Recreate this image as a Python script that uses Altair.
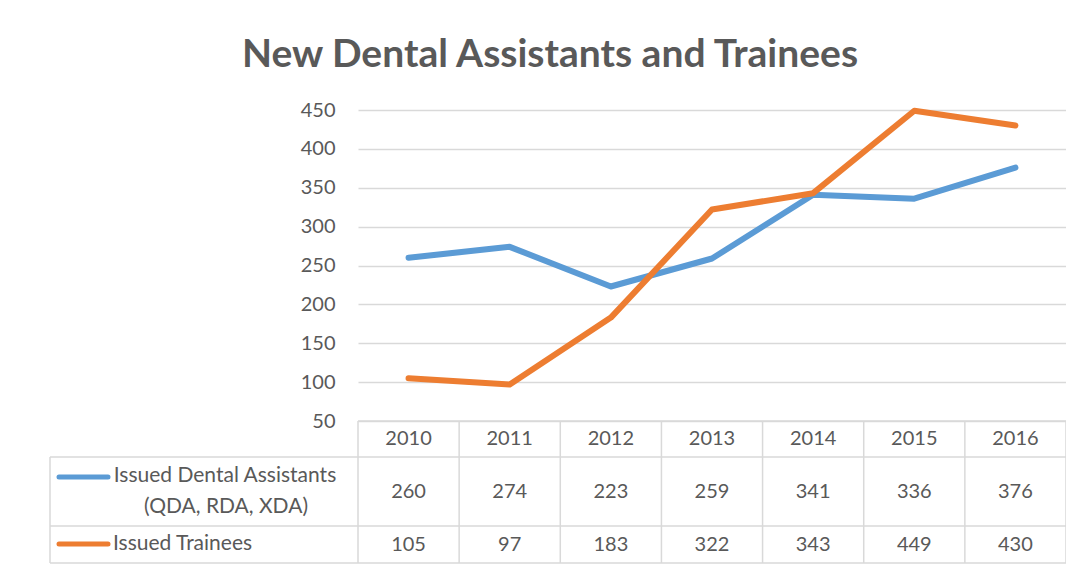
import altair as alt
import pandas as pd

years = ["2010", "2011", "2012", "2013", "2014", "2015", "2016"]
dental = [260, 274, 223, 259, 341, 336, 376]
trainees = [105, 97, 183, 322, 343, 449, 430]
series_names = ["Issued Dental Assistants (QDA, RDA, XDA)", "Issued Trainees"]
colors = ["#5B9BD5", "#ED7D31"]
y_ticks = [50, 100, 150, 200, 250, 300, 350, 400, 450]

FONT = "Lato"
GREY = "#595959"
LINE = "#d9d9d9"
W, H = 708, 311
FS = 20

idx = list(range(len(years)))
long_df = pd.DataFrame(
    [{"idx": i, "year": y, "value": v, "series": series_names[0]} for i, y, v in zip(idx, years, dental)]
    + [{"idx": i, "year": y, "value": v, "series": series_names[1]} for i, y, v in zip(idx, years, trainees)]
)
table_df = pd.DataFrame({"idx": idx, "year": years, "dental": dental, "trainees": trainees})
bounds_df = pd.DataFrame({"b": [i - 0.5 for i in idx] + [idx[-1] + 0.5]})
one_df = pd.DataFrame({"k": [0]})

xscale = alt.Scale(domain=[-0.5, len(years) - 0.5], nice=False, zero=False)
yscale = alt.Scale(domain=[50, 450], nice=False, zero=False)

lines = alt.Chart(long_df).mark_line(strokeWidth=6, strokeCap="round", strokeJoin="round").encode(
    x=alt.X("idx:Q", scale=xscale, axis=None),
    y=alt.Y("value:Q", scale=yscale, axis=alt.Axis(
        values=y_ticks, grid=True, gridColor=LINE, gridWidth=1.5, domain=False, ticks=False,
        labelPadding=23, labelFontSize=FS, labelColor=GREY, labelFont=FONT, title=None)),
    color=alt.Color("series:N", scale=alt.Scale(domain=series_names, range=colors), legend=None),
)

tbl = alt.Chart(table_df)
def row(field, ypx):
    return tbl.mark_text(fontSize=FS, font=FONT, color=GREY, baseline="middle").encode(
        x=alt.X("idx:Q", scale=xscale, axis=None), y=alt.value(ypx), text=field)

hdr = row("year:N", 329)
row1 = row("dental:Q", 381.5)
row2 = row("trainees:Q", 434.5)

vrules = alt.Chart(bounds_df).mark_rule(color=LINE, strokeWidth=1.5).encode(
    x=alt.X("b:Q", scale=xscale, axis=None), y=alt.value(311), y2=alt.value(453))

one = alt.Chart(one_df)
def hrule(yv, x0=-308, x1=W, color=LINE, sw=1.5):
    return one.mark_rule(color=color, strokeWidth=sw).encode(
        x=alt.value(x0), x2=alt.value(x1), y=alt.value(yv))

def vrule(xv, y0, y1, color=LINE, sw=1.5):
    return one.mark_rule(color=color, strokeWidth=sw).encode(
        x=alt.value(xv), y=alt.value(y0), y2=alt.value(y1))

def label(txt, xv, yv, align, size=FS, weight="normal"):
    return one.mark_text(text=txt, fontSize=size, font=FONT, fontWeight=weight, color=GREY,
                         align=align, baseline="middle").encode(x=alt.value(xv), y=alt.value(yv))

key1 = one.mark_rule(color=colors[0], strokeWidth=5, strokeCap="round").encode(
    x=alt.value(-299), x2=alt.value(-250), y=alt.value(367))
key2 = one.mark_rule(color=colors[1], strokeWidth=5, strokeCap="round").encode(
    x=alt.value(-299), x2=alt.value(-250), y=alt.value(434))

title = one.mark_text(text="New Dental Assistants and Trainees", fontSize=39,
    font=FONT, fontWeight="bold", color=GREY, align="center", baseline="alphabetic").encode(
    x=alt.value(192), y=alt.value(-43))

chart = alt.layer(
    vrule(-352.5, -105, 470, color="#d0d0d0", sw=1.5), hrule(-104.5, -353, 730, color="#d0d0d0", sw=1.5), title,
    vrules, hrule(311, 0, W), hrule(347), hrule(416), hrule(453), vrule(-308, 347, 453),
    lines, hdr, row1, row2, key1, key2,
    label("Issued Dental Assistants", -133, 366, "center", size=21),
    label("(QDA, RDA, XDA)", -132, 397, "center", size=21),
    label("Issued Trainees", -245, 434, "left", size=21),
).properties(
    width=W, height=H,
    autosize=alt.AutoSizeParams(type="none"),
    padding={"left": 350, "top": 102, "right": 0, "bottom": 150},
    background="white",
).configure_view(strokeWidth=0)

chart.save("out.html", embed_options={"renderer": "svg", "actions": False})
